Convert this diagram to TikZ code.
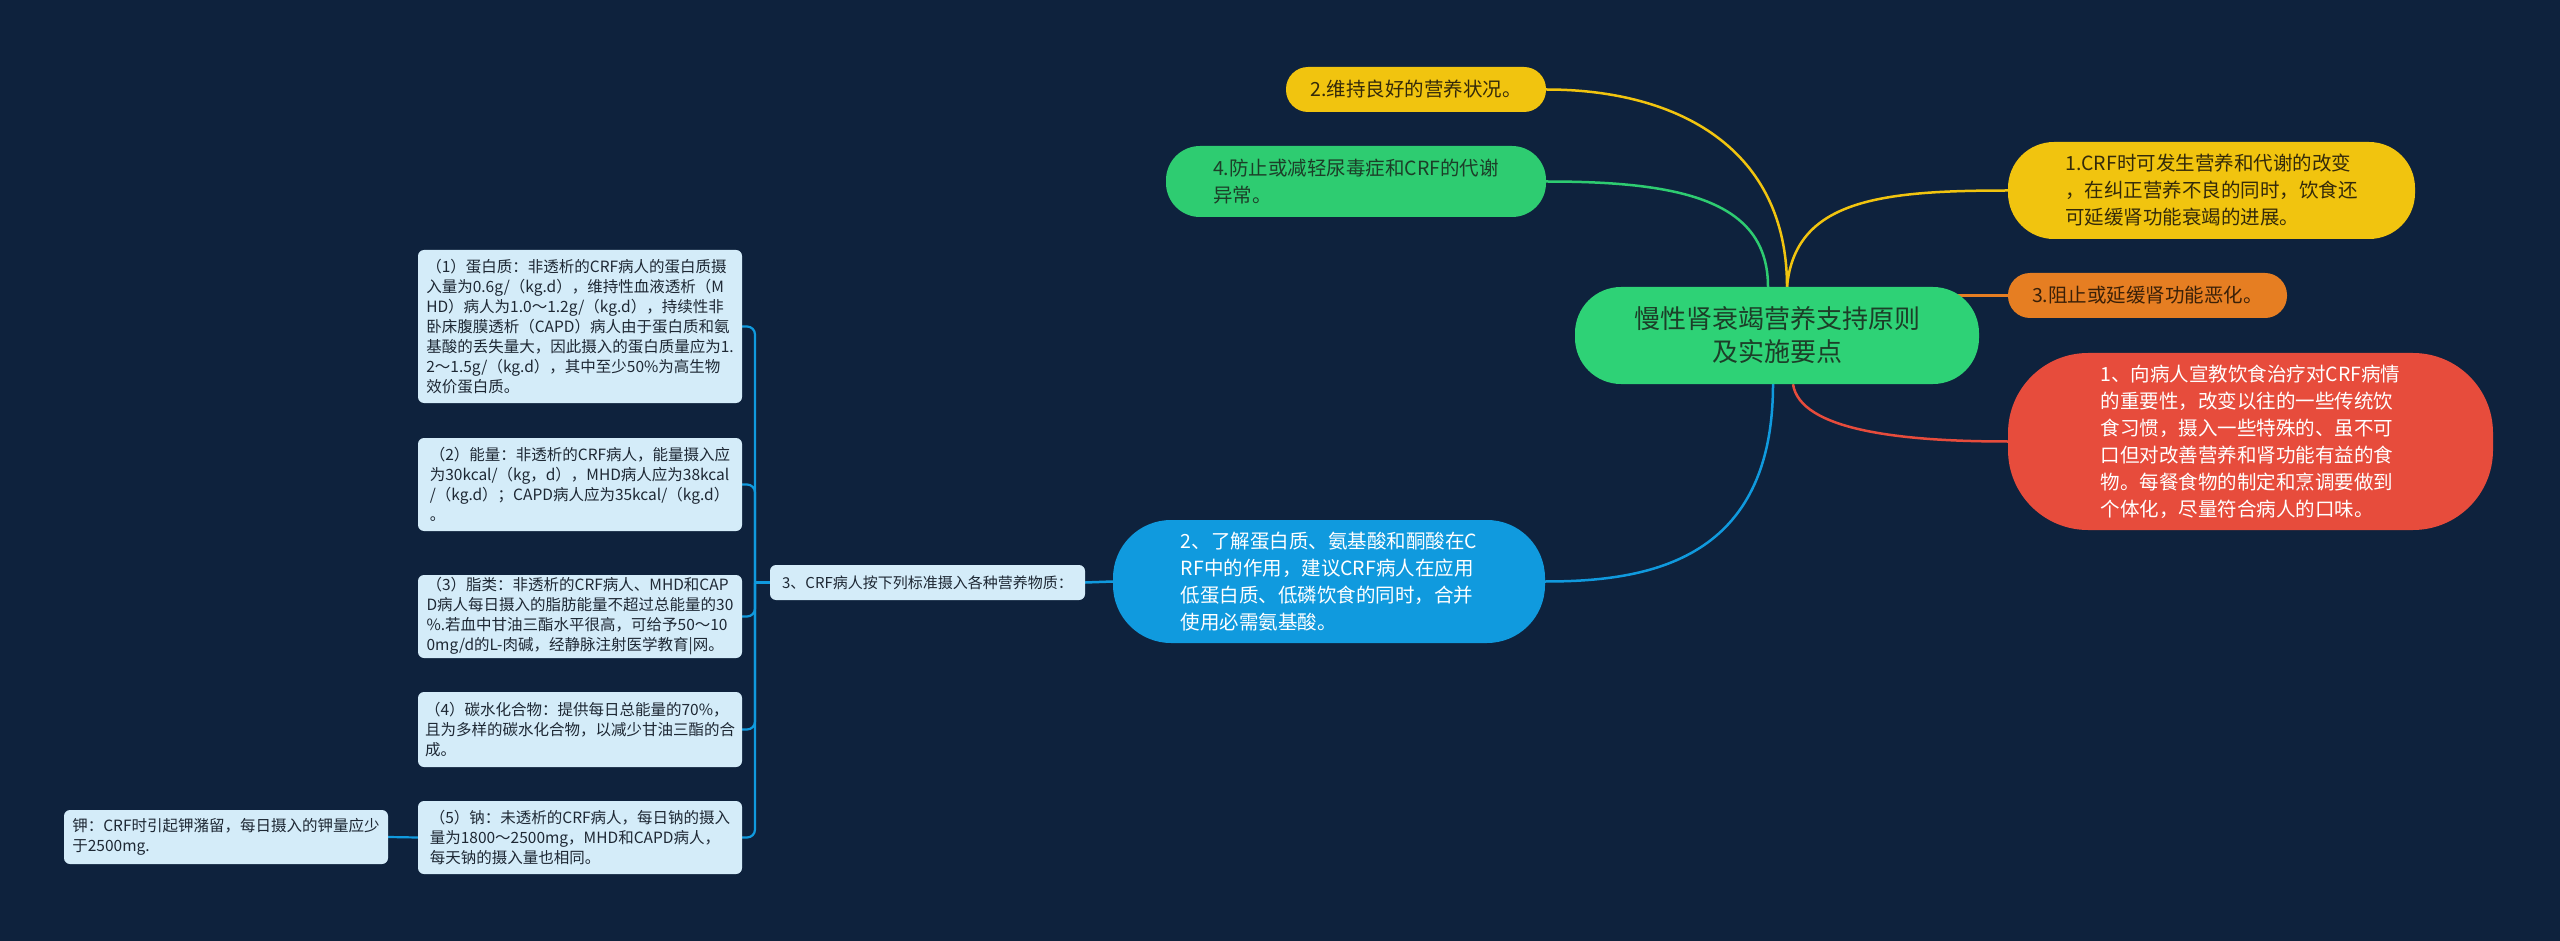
\documentclass[tikz,border=0pt]{standalone}
\usepackage{fontspec}
\setmainfont{Noto Sans CJK SC}
\usetikzlibrary{backgrounds}

\definecolor{bgnavy}{RGB}{14,34,61}
\definecolor{rootgreen}{RGB}{46,210,118}
\definecolor{rootink}{RGB}{28,62,40}
\definecolor{sunyellow}{RGB}{241,196,15}
\definecolor{sunink}{RGB}{52,42,10}
\definecolor{leafgreen}{RGB}{46,204,113}
\definecolor{amber}{RGB}{230,126,34}
\definecolor{amberink}{RGB}{58,32,8}
\definecolor{coral}{RGB}{231,76,60}
\definecolor{sky}{RGB}{16,154,222}
\definecolor{paleblue}{RGB}{212,236,249}
\definecolor{paleink}{RGB}{30,40,52}

\begin{document}
\begin{tikzpicture}[x=1pt,y=-1pt,
  topic/.style={inner sep=0pt,align=left,font=\fontsize{19.5}{27}\selectfont},
  detail/.style={inner sep=0pt,align=left,fill=paleblue,text=paleink,
    rounded corners=6,minimum width=324,font=\fontsize{15.5}{20}\selectfont},
  link/.style={line width=2.5},
  twig/.style={line width=2.2,draw=sky}]

\useasboundingbox (0,0) rectangle (2560,941);

% centre
\node[topic,align=center,fill=rootgreen,text=rootink,
  minimum width=404,minimum height=97,rounded corners=46,
  font=\fontsize{26}{33}\selectfont]
  (root) at (1777,335.5) {慢性肾衰竭营养支持原则\\及实施要点};

% left branches
\node[topic,align=center,fill=sunyellow,text=sunink,
  minimum width=260,minimum height=45,rounded corners=22]
  (n2) at (1416,89.5) {2.维持良好的营养状况。};

\node[topic,fill=leafgreen,text=rootink,
  minimum width=380,minimum height=71,rounded corners=34]
  (n4) at (1356,181.5) {4.防止或减轻尿毒症和CRF的代谢\\异常。};

\node[topic,fill=sky,text=white,
  minimum width=432,minimum height=123,rounded corners=58]
  (nb) at (1329,581.5)
  {2、了解蛋白质、氨基酸和酮酸在C\\RF中的作用，建议CRF病人在应用\\低蛋白质、低磷饮食的同时，合并\\使用必需氨基酸。};

% right branches
\node[topic,fill=sunyellow,text=sunink,
  minimum width=407,minimum height=97,rounded corners=46]
  (n1) at (2211.5,190.5)
  {1.CRF时可发生营养和代谢的改变\\，在纠正营养不良的同时，饮食还\\可延缓肾功能衰竭的进展。};

\node[topic,align=center,fill=amber,text=amberink,
  minimum width=279,minimum height=45,rounded corners=22]
  (n3) at (2147.5,295.5) {3.阻止或延缓肾功能恶化。};

\node[topic,fill=coral,text=white,
  minimum width=485,minimum height=177,rounded corners=80]
  (nr) at (2250.5,441.5)
  {1、向病人宣教饮食治疗对CRF病情\\的重要性，改变以往的一些传统饮\\食习惯，摄入一些特殊的、虽不可\\口但对改善营养和肾功能有益的食\\物。每餐食物的制定和烹调要做到\\个体化，尽量符合病人的口味。};

% nutrient list
\node[detail,minimum width=315,minimum height=35,
  font=\fontsize{15}{19}\selectfont]
  (s) at (927.5,582.5) {3、CRF病人按下列标准摄入各种营养物质：};

\node[detail,minimum height=153] (b1) at (580,326.5)
  {（1）蛋白质：非透析的CRF病人的蛋白质摄\\入量为0.6g/（kg.d），维持性血液透析（M\\HD）病人为1.0～1.2g/（kg.d），持续性非\\卧床腹膜透析（CAPD）病人由于蛋白质和氨\\基酸的丢失量大，因此摄入的蛋白质量应为1.\\2～1.5g/（kg.d），其中至少50\%为高生物\\效价蛋白质。};

\node[detail,minimum height=93] (b2) at (580,484.5)
  {（2）能量：非透析的CRF病人，能量摄入应\\为30kcal/（kg，d），MHD病人应为38kcal\\/（kg.d）；CAPD病人应为35kcal/（kg.d）\\。};

\node[detail,minimum height=83] (b3) at (580,616.5)
  {（3）脂类：非透析的CRF病人、MHD和CAP\\D病人每日摄入的脂肪能量不超过总能量的30\\\%.若血中甘油三酯水平很高，可给予50～10\\0mg/d的L-肉碱，经静脉注射医学教育|网。};

\node[detail,minimum height=75] (b4) at (580,729.5)
  {（4）碳水化合物：提供每日总能量的70\%，\\且为多样的碳水化合物，以减少甘油三酯的合\\成。};

\node[detail,minimum height=73] (b5) at (580,837.5)
  {（5）钠：未透析的CRF病人，每日钠的摄入\\量为1800～2500mg，MHD和CAPD病人，\\每天钠的摄入量也相同。};

\node[detail,minimum height=54] (k) at (226,837)
  {钾：CRF时引起钾潴留，每日摄入的钾量应少\\于2500mg.};

\begin{scope}[on background layer]
\fill[bgnavy] (0,0) rectangle (2560,941);

\draw[link,draw=sunyellow]
  ([xshift=10pt]root.north) .. controls (1787,150) and (1680,89.5) .. (n2.east);
\draw[link,draw=sunyellow]
  ([xshift=10pt]root.north) .. controls (1795,200) and (1880,190.5) .. (n1.west);
\draw[link,draw=leafgreen]
  ([xshift=-9pt]root.north) .. controls (1768,200) and (1680,181.5) .. (n4.east);
\draw[link,draw=amber] (root.center |- n3.west) -- (n3.west);
\draw[link,draw=coral]
  ([xshift=16pt]root.south) .. controls (1800,430) and (1900,441.5) .. (nr.west);
\draw[link,draw=sky]
  ([xshift=-4pt]root.south) .. controls (1773,560) and (1650,581.5) .. (nb.east);
\draw[link,draw=sky] (nb.west) -- (s.east);

\coordinate (hub) at (755,582.5);
\draw[twig] (s.west) -- (hub);
\foreach \i in {1,...,5}
  \draw[twig,rounded corners=8] (hub) |- (b\i.east);
\draw[twig] (b5.west) -- (k.east);
\end{scope}

\end{tikzpicture}
\end{document}
